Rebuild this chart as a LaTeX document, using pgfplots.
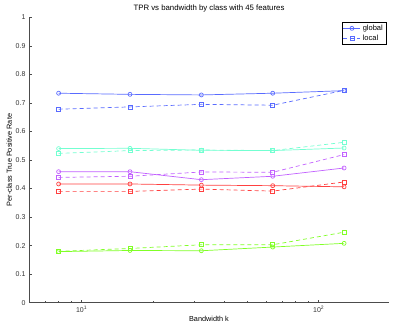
\documentclass[border=0pt]{standalone}
\usepackage{pgfplots}
\pgfplotsset{compat=1.18}
\usepackage{fontspec}
\setmainfont{Liberation Sans}
\definecolor{cblue}{rgb}{0.35,0.42,1.0}
\definecolor{ccyan}{rgb}{0.45,1.0,0.82}
\definecolor{cpurp}{rgb}{0.76,0.38,1.0}
\definecolor{cred}{rgb}{1.0,0.25,0.25}
\definecolor{cgreen}{rgb}{0.5,1.0,0.15}
\begin{document}
\begin{tikzpicture}
\begin{axis}[
  scale only axis,
  width=360pt, height=285.4pt,
  xmode=log, xmin=6, xmax=198,
  ymin=0, ymax=1,
  axis x line*=bottom, axis y line*=left,
  axis line style={black!70, line width=0.5pt},
  tick align=inside,
  tick style={black!70, line width=0.5pt},
  major tick length=3pt, minor tick length=2pt,
  xtick={10,100},
  xticklabels={10\textsuperscript{1},10\textsuperscript{2}},
  minor xtick={7,8,9,20,30,40,50,60,70,80,90},
  ytick={0,0.1,...,1.01},
  yticklabel style={/pgf/number format/.cd, fixed, precision=1, assume math mode=true},
  ticklabel style={font=\fontsize{7}{8}\selectfont, black!80},
  title={TPR vs bandwidth by class with 45 features},
  title style={font=\fontsize{7.8}{9}\selectfont, yshift=-4pt, xshift=0pt},
  xlabel={Bandwidth k},
  ylabel={Per-class True Positive Rate},
  label style={font=\fontsize{7.3}{8}\selectfont},
  xlabel style={yshift=3pt},
  ylabel style={yshift=-3pt},
  legend style={at={(0.992,0.985)}, anchor=north east, font=\fontsize{7.5}{8}\selectfont,
     draw=black, line width=0.6pt, inner sep=1pt, row sep=-1pt},
  legend cell align=left,
  every axis plot/.append style={line width=0.7pt, mark size=2pt},
]
\addplot[color=cblue, solid, mark=o, mark options={solid}] coordinates {(8,0.734) (16,0.730) (32,0.728) (64,0.734) (128,0.743)};
\addlegendentry{global}
\addplot[color=cblue, dash pattern=on 4pt off 3pt, mark=square, mark options={solid}] coordinates {(8,0.678) (16,0.686) (32,0.695) (64,0.692) (128,0.744)};
\addlegendentry{local}
\addplot[color=ccyan, solid, mark=o, mark options={solid}, forget plot] coordinates {(8,0.540) (16,0.541) (32,0.534) (64,0.533) (128,0.542)};
\addplot[color=ccyan, dash pattern=on 4pt off 3pt, mark=square, mark options={solid}, forget plot] coordinates {(8,0.523) (16,0.533) (32,0.535) (64,0.533) (128,0.562)};
\addplot[color=cpurp, solid, mark=o, mark options={solid}, forget plot] coordinates {(8,0.459) (16,0.459) (32,0.431) (64,0.443) (128,0.472)};
\addplot[color=cpurp, dash pattern=on 4pt off 3pt, mark=square, mark options={solid}, forget plot] coordinates {(8,0.439) (16,0.443) (32,0.458) (64,0.457) (128,0.519)};
\addplot[color=cred, solid, mark=o, mark options={solid}, forget plot] coordinates {(8,0.416) (16,0.416) (32,0.412) (64,0.410) (128,0.406)};
\addplot[color=cred, dash pattern=on 4pt off 3pt, mark=square, mark options={solid}, forget plot] coordinates {(8,0.390) (16,0.390) (32,0.398) (64,0.391) (128,0.423)};
\addplot[color=cgreen, solid, mark=o, mark options={solid}, forget plot] coordinates {(8,0.179) (16,0.183) (32,0.182) (64,0.195) (128,0.208)};
\addplot[color=cgreen, dash pattern=on 4pt off 3pt, mark=square, mark options={solid}, forget plot] coordinates {(8,0.180) (16,0.190) (32,0.203) (64,0.203) (128,0.247)};
\end{axis}
\pgfresetboundingbox
\path (current axis.south west) ++(-29pt,-26.3pt) coordinate (bl);
\path (current axis.north east) ++(7pt,17.3pt) coordinate (tr);
\useasboundingbox (bl) rectangle (tr);
\end{tikzpicture}
\end{document}
